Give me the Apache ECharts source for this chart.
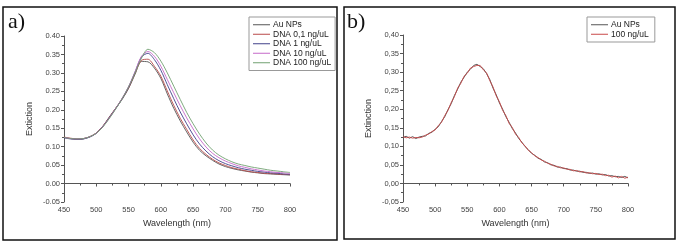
<!DOCTYPE html>
<html><head><meta charset="utf-8">
<script src="https://cdn.jsdelivr.net/npm/echarts@6/dist/echarts.min.js"></script>
<style>html,body{margin:0;padding:0;background:#fff}#c{width:688px;height:251px}</style>
</head><body><div id="c"></div>
<script>
// ---- data ----
const wlA = [450,460,470,480,490,500,510,520,530,540,550,560,570,580,590,600,610,620,630,640,650,660,670,680,690,700,710,720,730,740,750,760,770,780,790,800];
const auA    = [.125,.122,.120,.121,.127,.137,.155,.180,.204,.228,.258,.296,.331,.330,.313,.285,.243,.204,.170,.140,.112,.090,.075,.063,.053,.046,.041,.037,.034,.031,.029,.027,.026,.025,.024,.023];
const dna01A = [.126,.123,.121,.122,.127,.137,.155,.179,.204,.230,.259,.299,.334,.337,.318,.291,.251,.212,.177,.147,.118,.095,.079,.066,.056,.049,.043,.039,.035,.032,.030,.028,.027,.026,.025,.024];
const dna1A  = [.124,.121,.120,.121,.126,.136,.154,.178,.203,.230,.261,.302,.343,.353,.336,.307,.268,.230,.194,.162,.132,.107,.088,.073,.062,.054,.048,.043,.039,.036,.033,.031,.029,.028,.026,.025];
const dna10A = [.125,.122,.121,.122,.127,.136,.154,.177,.203,.231,.263,.303,.345,.358,.345,.318,.282,.246,.211,.178,.148,.121,.099,.082,.070,.061,.054,.048,.044,.040,.037,.034,.032,.030,.029,.027];
const dna100A= [.125,.122,.121,.122,.127,.136,.153,.176,.202,.230,.262,.300,.340,.364,.355,.332,.300,.264,.228,.193,.162,.134,.110,.091,.077,.067,.059,.053,.049,.045,.042,.039,.036,.034,.032,.030];
const namesA = ['Au NPs','DNA 0,1 ng/uL','DNA 1 ng/uL','DNA 10 ng/uL','DNA 100 ng/uL'];

const wlB = [];
for (let w = 450; w <= 800; w += 5) wlB.push(w);
const auB = [.124,.127,.122,.126,.121,.125,.127,.128,.135,.138,
             .146,.153,.167,.180,.199,.215,.237,.254,.273,.286,
             .300,.308,.318,.321,.315,.309,.296,.280,.257,.239,
             .217,.200,.180,.165,.148,.136,.121,.111,.099,.091,
             .081,.076,.068,.065,.058,.056,.050,.049,.044,.044,
             .040,.040,.036,.036,.033,.033,.030,.030,.027,.028,
             .025,.026,.023,.024,.020,.021,.018,.019,.016,.019,
             .015];
const dna100B = [.126,.123,.125,.122,.124,.123,.125,.130,.133,.140,
             .144,.156,.165,.183,.197,.218,.234,.257,.270,.289,
             .297,.311,.315,.318,.318,.306,.298,.277,.260,.236,
             .220,.197,.183,.162,.151,.133,.124,.109,.101,.089,
             .083,.074,.070,.063,.060,.054,.052,.047,.046,.042,
             .042,.038,.038,.034,.035,.031,.032,.028,.029,.026,
             .027,.024,.025,.021,.022,.017,.020,.015,.019,.014,
             .017];
const namesB = ['Au NPs','100 ng/uL'];

const xMin = 450, xMax = 800, xStep = 50;
const yMin = -0.05, yMax = 0.40, yStep = 0.05;

// ---- chart ----
const FONT = 'Liberation Sans, Arial, sans-serif';
const colorsA = ['#555555','#b84848','#40408a','#c468c8','#70a070'];
const colorsB = ['#444444','#c84848'];

function xAxis(gi){
  return {gridIndex:gi,type:'value',min:xMin,max:xMax,interval:xStep,
    name:'Wavelength (nm)',nameLocation:'middle',nameGap:17,
    nameTextStyle:{fontFamily:FONT,fontSize:9,color:'#333'},
    axisLine:{lineStyle:{color:'#555',width:1}},
    axisTick:{show:true,length:3,lineStyle:{color:'#555'}},
    minorTick:{show:true,splitNumber:2,length:2,lineStyle:{color:'#555'}},
    splitLine:{show:false},
    axisLabel:{fontFamily:FONT,fontSize:7.5,color:'#444',margin:4}};
}
function yAxis(gi,name,comma){
  return {gridIndex:gi,type:'value',min:yMin,max:yMax,interval:yStep,
    name:name,nameLocation:'middle',nameGap:30,nameRotate:90,
    nameTextStyle:{fontFamily:FONT,fontSize:9,color:'#333'},
    axisLine:{show:true,lineStyle:{color:'#555',width:1}},
    axisTick:{show:true,length:3,lineStyle:{color:'#555'}},
    minorTick:{show:true,splitNumber:2,length:2,lineStyle:{color:'#555'}},
    splitLine:{show:false},
    axisLabel:{fontFamily:FONT,fontSize:7.5,color:'#444',margin:4,
      formatter:v=>{const s=v.toFixed(2);return comma?s.replace('.',','):s;}}};
}
function line(name,gi,xs,ys,color){
  return {name:name,type:'line',xAxisIndex:gi,yAxisIndex:gi,showSymbol:false,symbol:'none',
    smooth:gi===0?0.3:false,data:xs.map((x,i)=>[x,ys[i]]),
    lineStyle:{color:color,width:0.9},itemStyle:{color:color},animation:false};
}
const legendCommon = {orient:'vertical',itemWidth:17,itemHeight:1,itemGap:0,icon:'rect',
  backgroundColor:'#fff',borderColor:'#999',borderWidth:1,borderRadius:0,
  textStyle:{fontFamily:FONT,fontSize:8.5,lineHeight:9.5,color:'#222',padding:[0,0,0,-2]}};

const seriesA = [auA,dna01A,dna1A,dna10A,dna100A];
const option = {
  animation:false,
  grid:[{left:64,right:398,top:36,bottom:49},{left:403,right:60,top:35,bottom:49}],
  xAxis:[xAxis(0),xAxis(1)],
  yAxis:[yAxis(0,'Extiction',false),yAxis(1,'Extinction',true)],
  legend:[
    Object.assign({},legendCommon,{data:namesA,left:249,top:17,padding:[3,4,3,4]}),
    Object.assign({},legendCommon,{data:namesB,left:587,top:17,padding:[3,6,3,4]})
  ],
  series:[
    ...namesA.map((n,i)=>line(n,0,wlA,seriesA[i],colorsA[i])),
    line(namesB[0],1,wlB,auB,colorsB[0]),
    line(namesB[1],1,wlB,dna100B,colorsB[1])
  ],
  graphic:[
    {type:'rect',shape:{x:3,y:7,width:334,height:233},style:{fill:'none',stroke:'#111',lineWidth:1.5},silent:true},
    {type:'rect',shape:{x:344,y:7,width:331,height:232},style:{fill:'none',stroke:'#111',lineWidth:1.5},silent:true},
    {type:'text',left:8,top:11,style:{text:'a)',font:'22px "Liberation Serif", "DejaVu Serif", serif',fill:'#111'}},
    {type:'text',left:347,top:11,style:{text:'b)',font:'22px "Liberation Serif", "DejaVu Serif", serif',fill:'#111'}}
  ]
};
const ch = echarts.init(document.getElementById('c'),null,{renderer:'canvas'});
ch.setOption(option);
</script></body></html>
